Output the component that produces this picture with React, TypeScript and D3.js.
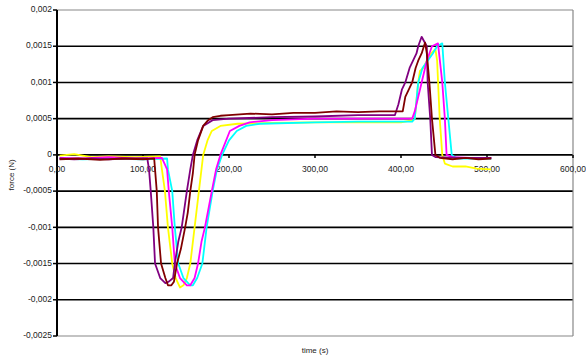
import * as d3 from 'd3';

// hand-read [time (s), force (N)] points for each run
const maroon: [number, number][] = [
  [3, -0.00006], [25, -0.00005], [50, -0.00007], [75, -0.00005], [100, -0.00006], [113, -0.00005],
  [114, -0.0002], [116, -0.0005], [117.5, -0.001], [121, -0.0015], [126, -0.0017], [129, -0.0018],
  [133, -0.0018], [136, -0.00175], [139.5, -0.0015], [144, -0.0013], [149, -0.001], [152, -0.0008],
  [155, -0.0005], [158, -0.00025], [160, 0], [164, 0.0002], [170, 0.0004], [175, 0.00047],
  [181, 0.00052], [190, 0.00054], [200, 0.00055], [225, 0.00057], [250, 0.00056], [275, 0.00058],
  [300, 0.00058], [325, 0.0006], [350, 0.00059], [375, 0.0006], [402, 0.0006],
  [405, 0.0008], [409, 0.0009], [413, 0.001], [417, 0.0012], [420, 0.0013], [424, 0.0014],
  [428, 0.00155], [430, 0.0014], [433, 0.001], [436, 0.0005], [440, 0], [445, -0.00004],
  [460, -0.00006], [475, -0.00004], [490, -0.00006], [505, -0.00005],
];

const purple: [number, number][] = [
  [3, -0.00005], [20, -0.00006], [40, -0.00005], [60, -0.00006], [80, -0.00005], [105, -0.00005],
  [107, -0.0002], [109, -0.0005], [112, -0.001], [114, -0.0015], [120, -0.0017], [126, -0.00177],
  [130, -0.00175], [135, -0.0017], [137, -0.0015], [141, -0.0012], [145, -0.001], [151, -0.0005],
  [155, -0.0002], [158, 0], [163, 0.0002], [170, 0.0004], [181, 0.00048], [200, 0.0005],
  [250, 0.00052], [300, 0.00053], [350, 0.00055], [393, 0.00055],
  [397, 0.0007], [401, 0.0009], [405, 0.001], [410, 0.0012], [414, 0.0013], [418, 0.0014],
  [420, 0.0015], [424, 0.00163], [430, 0.0015], [431, 0.001], [434, 0.0005], [436, 0],
  [440, -0.00003], [470, -0.00004], [505, -0.00004],
];

const yellow: [number, number][] = [
  [3, -0.00001], [20, 0.00001], [40, -0.00003], [60, -0.00002], [90, -0.00003], [120, -0.00002],
  [122, -0.0002], [125.5, -0.0005], [129, -0.001], [134, -0.0015], [138, -0.0017], [143, -0.00183],
  [147, -0.0018], [151, -0.0017], [155, -0.0015], [160, -0.001], [165, -0.0005], [170, 0],
  [175, 0.0002], [180, 0.00033], [190, 0.0004], [210, 0.00043], [250, 0.00044], [300, 0.00045],
  [350, 0.00045], [400, 0.00045], [414, 0.00048],
  [416, 0.0005], [420, 0.001], [422, 0.00116], [426, 0.0012], [430, 0.0013], [435, 0.0014],
  [440, 0.00146], [442, 0.0013], [445, 0.0005], [448, 0], [451, -0.00012], [460, -0.00016],
  [475, -0.00016], [488, -0.00019], [505, -0.0002],
];

const magenta: [number, number][] = [
  [3, -0.00004], [30, -0.00005], [60, -0.00003], [90, -0.00005], [122, -0.00004],
  [128, -0.0002], [130, -0.0005], [134, -0.001], [137, -0.0015], [143, -0.0017], [151, -0.0018],
  [155, -0.0018], [160, -0.0017], [164, -0.0015], [168, -0.0012], [172, -0.001], [180, -0.0005],
  [185, -0.0002], [190, 0], [201, 0.00033], [212, 0.0004], [224, 0.00045], [250, 0.00048],
  [300, 0.0005], [350, 0.0005], [413, 0.0005],
  [416, 0.0006], [420, 0.0008], [424, 0.001], [430, 0.0013], [436, 0.0015], [443, 0.00154],
  [448, 0.001], [451, 0.0005], [453, 0], [460, -0.00003], [480, -0.00004], [505, -0.00004],
];

const cyan: [number, number][] = [
  [3, -0.00005], [30, -0.00006], [60, -0.00005], [100, -0.00006], [128, -0.00005],
  [129, -0.0002], [134, -0.0005], [137, -0.001], [141, -0.0015], [147, -0.0017], [155, -0.0018],
  [158, -0.0018], [163, -0.0017], [169, -0.0015], [174, -0.001], [181, -0.0005], [186, -0.0002],
  [192, 0], [200, 0.0002], [209, 0.00033], [220, 0.0004], [236, 0.00043], [300, 0.00045],
  [350, 0.00046], [413, 0.00046],
  [416, 0.0005], [420, 0.001], [425, 0.0012], [431, 0.0013], [437, 0.0014], [442, 0.0015],
  [448, 0.00154], [451, 0.001], [455, 0.0005], [459, 0], [465, -0.00005], [505, -0.00005],
];

const series = [
  { name: 'yellow', color: '#ffff00', data: yellow },
  { name: 'cyan', color: '#00ffff', data: cyan },
  { name: 'magenta', color: '#ff00ff', data: magenta },
  { name: 'purple', color: '#800080', data: purple },
  { name: 'maroon', color: '#800000', data: maroon },
];

const yTicks = [0.002, 0.0015, 0.001, 0.0005, 0, -0.0005, -0.001, -0.0015, -0.002, -0.0025];
const xTicks = [0, 100, 200, 300, 400, 500, 600];

const fmtY = (v: number) => (v === 0 ? '0' : String(+v.toFixed(4)).replace('.', ','));
const fmtX = (v: number) => v.toFixed(2).replace('.', ',');

export default function App() {
  const width = 586;
  const height = 360;

  const x = d3.scaleLinear().domain([0, 600]).range([57, 573]);
  const y = d3.scaleLinear().domain([-0.0025, 0.002]).range([336, 10]);

  const line = d3
    .line<[number, number]>()
    .x((d) => x(d[0]))
    .y((d) => y(d[1]));

  const font = '"Liberation Sans", Arial, sans-serif';

  return (
    <div style={{ position: 'absolute', left: 0, top: 0 }}>
      <svg width={width} height={height} style={{ display: 'block', background: '#fff' }}>
        {/* gridlines */}
        {yTicks.map((t) => {
          const edge = t === 0.002 || t === -0.0025;
          return (
            <line
              key={'g' + t}
              x1={x(0)}
              x2={x(600)}
              y1={y(t)}
              y2={y(t)}
              stroke={edge ? '#888' : '#000'}
              strokeWidth={edge ? 1.2 : 1.6}
            />
          );
        })}
        {/* right border */}
        <line x1={x(600)} x2={x(600)} y1={y(0.002)} y2={y(-0.0025)} stroke="#888" strokeWidth={1.2} />

        {/* y axis */}
        <line x1={x(0)} x2={x(0)} y1={y(0.002)} y2={y(-0.0025)} stroke="#000" strokeWidth={2} />
        {yTicks.map((t) => (
          <g key={'y' + t}>
            <line x1={x(0) - 4} x2={x(0)} y1={y(t)} y2={y(t)} stroke="#000" strokeWidth={1.5} />
            <text
              x={x(0) - 5}
              y={y(t)}
              textAnchor="end"
              dominantBaseline="middle"
              fontFamily={font}
              fontSize={8.5}
              fill="#222"
            >
              {fmtY(t)}
            </text>
          </g>
        ))}

        {/* x axis ticks and labels on the zero line */}
        {xTicks.map((t) => (
          <g key={'x' + t}>
            <line x1={x(t)} x2={x(t)} y1={y(0)} y2={y(0) + 3} stroke="#000" strokeWidth={1.5} />
            <text
              x={x(t)}
              y={y(0) + 17}
              textAnchor="middle"
              fontFamily={font}
              fontSize={8.5}
              fill="#222"
            >
              {fmtX(t)}
            </text>
          </g>
        ))}

        {/* series */}
        {series.map((s) => (
          <path
            key={s.name}
            d={line(s.data) ?? ''}
            fill="none"
            stroke={s.color}
            strokeWidth={1.8}
            strokeLinejoin="round"
          />
        ))}

        <text
          x={(x(0) + x(600)) / 2}
          y={353}
          textAnchor="middle"
          fontFamily={font}
          fontSize={8}
          fill="#222"
        >
          time (s)
        </text>
        <text
          transform={`translate(14,${y(0) + 20}) rotate(-90)`}
          textAnchor="middle"
          fontFamily={font}
          fontSize={8}
          fill="#222"
        >
          force (N)
        </text>
      </svg>
    </div>
  );
}
